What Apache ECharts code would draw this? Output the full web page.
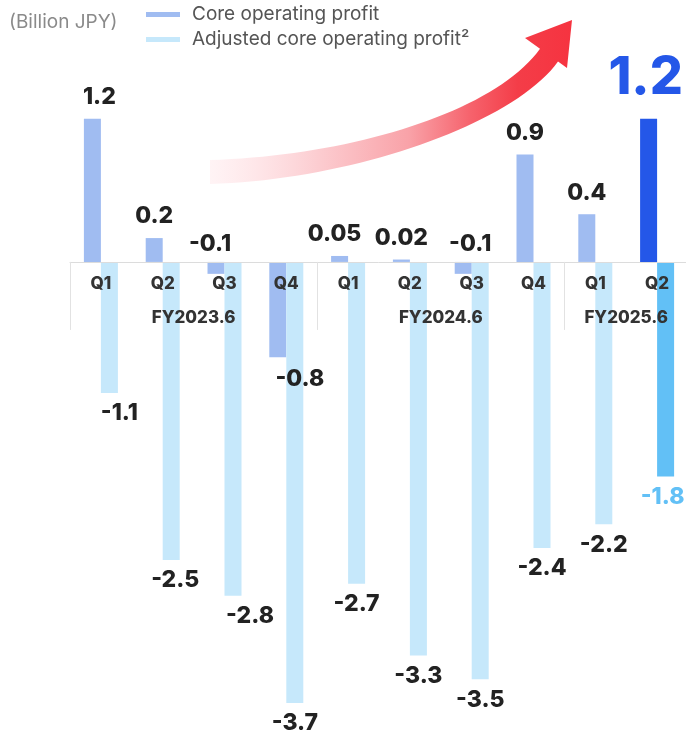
<!DOCTYPE html>
<html>
<head>
<meta charset="utf-8">
<script src="https://cdn.jsdelivr.net/npm/echarts@6/dist/echarts.min.js"></script>
<style>
  html, body { margin: 0; padding: 0; background: #fff; }
  #chart { width: 686px; height: 736px; }
</style>
</head>
<body>
<div id="chart"></div>
<script>
// Quarterly results, billion JPY
const quarters = ['Q1', 'Q2', 'Q3', 'Q4', 'Q1', 'Q2', 'Q3', 'Q4', 'Q1', 'Q2'];
const fiscalYears = ['FY2023.6', 'FY2024.6', 'FY2025.6'];
const fiscalYearCenters = [2, 6, 9]; // measured in quarters from the left edge
const coreProfit = [1.2, 0.2, -0.1, -0.8, 0.05, 0.02, -0.1, 0.9, 0.4, 1.2];
const adjustedProfit = [-1.1, -2.5, -2.8, -3.7, -2.7, -3.3, -3.5, -2.4, -2.2, -1.8];
const unitLabel = '(Billion JPY)';
const seriesNames = ['Core operating profit', 'Adjusted core operating profit²'];

const FONT = 'Inter, "Noto Sans", sans-serif';
const CORE = '#a0bcf1';
const ADJ = '#c6e8fb';
const CORE_HI = '#2457e8';
const ADJ_HI = '#62c0f6';

// value range and plot box
const Y_MIN = -3.8, Y_MAX = 1.4;
const GRID_TOP = 95, GRID_H = 620;
// pull the category axis up from the plot bottom to the zero line
const zeroOffset = -GRID_H * (0 - Y_MIN) / (Y_MAX - Y_MIN);

// small horizontal nudges so neighbouring labels do not collide
const coreNudge = { 0: 7, 2: -6, 3: 22, 4: -5, 6: 7 };
const adjNudge = { 0: 10, 1: 4, 2: 17 };

const valueLabel = {
  show: true,
  fontFamily: FONT,
  fontWeight: 800,
  fontSize: 23,
  color: '#222',
  formatter: p => String(p.value)
};

const last = coreProfit.length - 1;

const coreItems = coreProfit.map((v, i) => {
  const item = { value: v, label: { offset: [coreNudge[i] || 0, 0] } };
  if (v < -0.5) {
    item.label.position = 'bottom';
  } else if (v < 0) {
    item.label.offset = [coreNudge[i] || 0, 4];
  }
  if (i === last) {
    item.itemStyle = { color: CORE_HI };
    item.label = { fontSize: 52, color: CORE_HI, distance: 14, offset: [-3, 0] };
  }
  return item;
});

const adjItems = adjustedProfit.map((v, i) => {
  const item = { value: v, label: { offset: [adjNudge[i] || 0, 0] } };
  if (i === last) {
    item.itemStyle = { color: ADJ_HI };
    item.label = { color: ADJ_HI, offset: [-3, 0] };
  }
  return item;
});

// Rising arrow outline: two cubic edges joined by an arrow head
function cubic(p0, p1, p2, p3, n) {
  const pts = [];
  for (let k = 0; k <= n; k++) {
    const t = k / n, u = 1 - t;
    pts.push([
      u * u * u * p0[0] + 3 * u * u * t * p1[0] + 3 * u * t * t * p2[0] + t * t * t * p3[0],
      u * u * u * p0[1] + 3 * u * u * t * p1[1] + 3 * u * t * t * p2[1] + t * t * t * p3[1]
    ]);
  }
  return pts;
}
const arrowPoints = []
  .concat(cubic([210, 160], [350, 156], [495, 112], [540, 48.7], 40))
  .concat([[525, 38], [572, 20], [567, 68]])
  .concat(cubic([558, 61.6], [513, 124], [352, 180], [210, 184], 40));

const chart = echarts.init(document.getElementById('chart'), null, { renderer: 'canvas' });

chart.setOption({
  animation: false,
  backgroundColor: '#fff',
  title: {
    text: unitLabel,
    left: 9,
    top: 13,
    padding: 0,
    textStyle: { fontFamily: FONT, fontSize: 19, fontWeight: 'normal', color: '#8a8a8a' }
  },
  legend: {
    orient: 'vertical',
    left: 146,
    top: 5,
    padding: 0,
    itemWidth: 34,
    itemHeight: 5,
    itemGap: 6,
    icon: 'rect',
    data: seriesNames,
    textStyle: {
      fontFamily: FONT,
      fontSize: 19,
      lineHeight: 18,
      color: '#555',
      padding: [0, 0, 0, 7]
    }
  },
  graphic: [{
    type: 'polygon',
    z: 1,
    shape: { points: arrowPoints },
    style: {
      fill: {
        type: 'linear', x: 0, y: 0, x2: 1, y2: 0,
        colorStops: [
          { offset: 0, color: 'rgba(255,232,235,0.5)' },
          { offset: 0.3, color: '#fcccd0' },
          { offset: 0.55, color: '#f9a2a8' },
          { offset: 0.72, color: '#f6626c' },
          { offset: 0.85, color: '#f43d48' },
          { offset: 1, color: '#f63340' }
        ]
      }
    }
  }],
  grid: { left: 70, width: 618, top: GRID_TOP, height: GRID_H, containLabel: false, outerBoundsMode: 'none' },
  xAxis: [{
    type: 'category',
    data: quarters,
    position: 'bottom',
    offset: zeroOffset,
    z: 10,
    axisLine: { onZero: false, lineStyle: { color: '#dcdcdc', width: 1 } },
    axisTick: {
      show: true,
      length: 68,
      interval: i => i % 4 === 0,
      lineStyle: { color: '#e2e2e2', width: 1 }
    },
    axisLabel: {
      interval: 0,
      margin: 13,
      fontFamily: FONT,
      fontWeight: 800,
      fontSize: 17,
      color: '#333'
    },
    splitLine: { show: false }
  }, {
    type: 'value',
    min: 0,
    max: 10,
    interval: 1,
    position: 'bottom',
    offset: zeroOffset,
    z: 10,
    axisLine: { show: false, onZero: false },
    axisTick: { show: false },
    splitLine: { show: false },
    axisLabel: {
      margin: 47,
      fontFamily: FONT,
      fontWeight: 800,
      fontSize: 17,
      color: '#333',
      formatter: v => {
        const k = fiscalYearCenters.indexOf(v);
        return k < 0 ? '' : fiscalYears[k];
      }
    }
  }],
  yAxis: [
    { type: 'value', min: Y_MIN, max: Y_MAX, show: false, splitLine: { show: false } }
  ],
  series: [{
    type: 'bar',
    name: seriesNames[0],
    xAxisIndex: 0,
    yAxisIndex: 0,
    barWidth: 17,
    barGap: '0%',
    z: 3,
    itemStyle: { color: CORE },
    label: Object.assign({}, valueLabel, { position: 'top', distance: 10 }),
    data: coreItems
  }, {
    type: 'bar',
    name: seriesNames[1],
    xAxisIndex: 0,
    yAxisIndex: 0,
    barWidth: 17,
    barGap: '0%',
    z: 3,
    itemStyle: { color: ADJ },
    label: Object.assign({}, valueLabel, { position: 'bottom', distance: 9 }),
    data: adjItems
  }]
});
</script>
</body>
</html>
